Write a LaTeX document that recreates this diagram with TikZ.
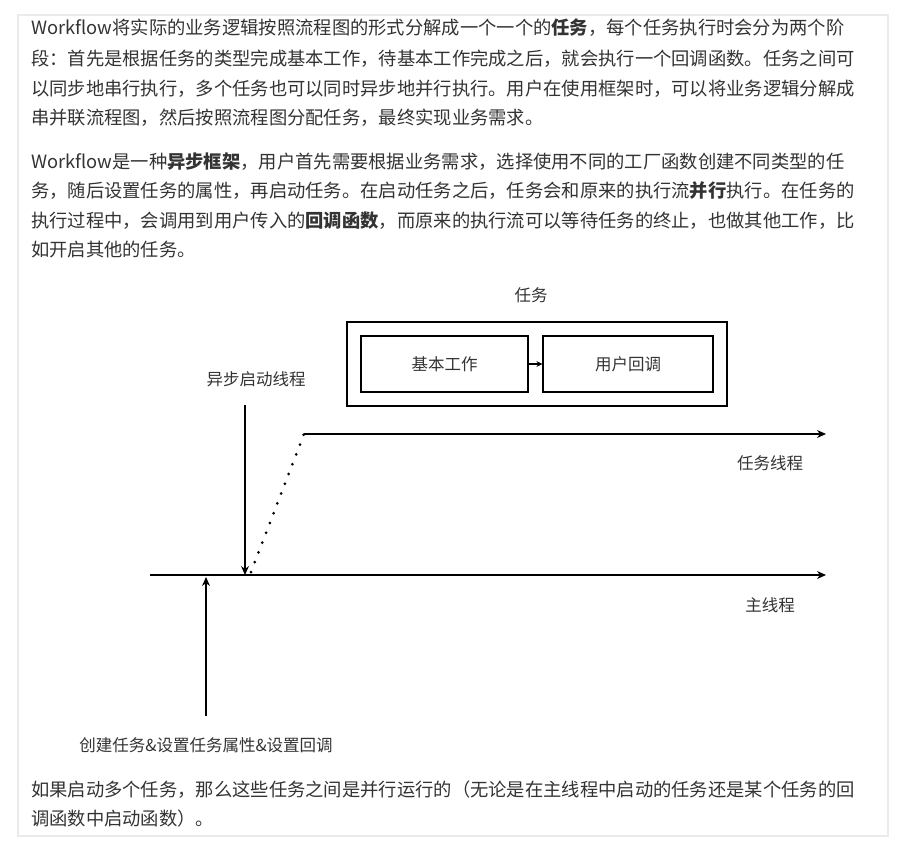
\documentclass[tikz,border=0pt]{standalone}
\usepackage{fontspec}
\setmainfont{Noto Sans CJK SC}
\usetikzlibrary{arrows.meta}
\definecolor{txt}{HTML}{333333}
\begin{document}
\begin{tikzpicture}[x=1pt,y=-1pt,
  para/.style={anchor=base west,inner sep=0,text=txt,font=\fontsize{18.3}{20}\selectfont},
  lbl/.style={inner sep=0,text=txt,font=\fontsize{16.5}{18}\selectfont},
  box/.style={draw=black,line width=1.2pt},
  arr/.style={line width=1.2pt,-{Stealth[length=9pt,width=8pt]}}]
\useasboundingbox (0,0) rectangle (906,849);
\fill[white] (0,0) rectangle (906,849);
\draw[black!8,line width=2pt] (18,15) rectangle (888,836);
\node[para] (p1) at (31,34) {Workflow将实际的业务逻辑按照流程图的形式分解成一个一个的\textbf{任务}，每个任务执行时会分为两个阶};
\node[para] (p2) at (31,65) {段：首先是根据任务的类型完成基本工作，待基本工作完成之后，就会执行一个回调函数。任务之间可};
\node[para] (p3) at (31,95) {以同步地串行执行，多个任务也可以同时异步地并行执行。用户在使用框架时，可以将业务逻辑分解成};
\node[para] (p4) at (31,124) {串并联流程图，然后按照流程图分配任务，最终实现业务需求。};
\node[para] (q1) at (31,168) {Workflow是一种\textbf{异步框架}，用户首先需要根据业务需求，选择使用不同的工厂函数创建不同类型的任};
\node[para] (q2) at (31,197) {务，随后设置任务的属性，再启动任务。在启动任务之后，任务会和原来的执行流\textbf{并行}执行。在任务的};
\node[para] (q3) at (31,227) {执行过程中，会调用到用户传入的\textbf{回调函数}，而原来的执行流可以等待任务的终止，也做其他工作，比};
\node[para] (q4) at (31,256) {如开启其他的任务。};
\node[para] (r1) at (31,796) {如果启动多个任务，那么这些任务之间是并行运行的（无论是在主线程中启动的任务还是某个任务的回};
\node[para] (r2) at (31,825) {调函数中启动函数）。};
% diagram
\node[lbl] (tt) at (531,295) {任务};
\node[box,minimum width=380pt,minimum height=84pt] (outer) at (537,364) {};
\node[box,minimum width=167pt,minimum height=56pt,lbl] (b1) at (444.5,364) {基本工作};
\node[box,minimum width=170pt,minimum height=56pt,lbl] (b2) at (628,364) {用户回调};
\draw[arr,-{Stealth[length=6pt,width=6pt]}] (b1) -- (b2);
\coordinate (m0) at (150,575); \coordinate (m1) at (826,575);
\draw[arr] (m0) -- (m1);
\coordinate (t0) at (304,434); \coordinate (t1) at (826,434);
\draw[arr] (t0) -- (t1);
\coordinate (d0) at (251,572);
\draw[line width=3pt,line cap=round,dash pattern=on 0pt off 10.5pt] (d0) -- (t0);
\node[lbl] (al) at (256,379) {异步启动线程};
\coordinate (a0) at (245,405); \coordinate (a1) at (245,575);
\draw[arr] (a0) -- (a1);
\node[lbl] (tl) at (770,463) {任务线程};
\node[lbl] (ml) at (770,605) {主线程};
\coordinate (c0) at (206,716); \coordinate (c1) at (206,577);
\draw[arr] (c0) -- (c1);
\node[lbl] (cl) at (206,745) {创建任务\&设置任务属性\&设置回调};
\end{tikzpicture}
\end{document}
